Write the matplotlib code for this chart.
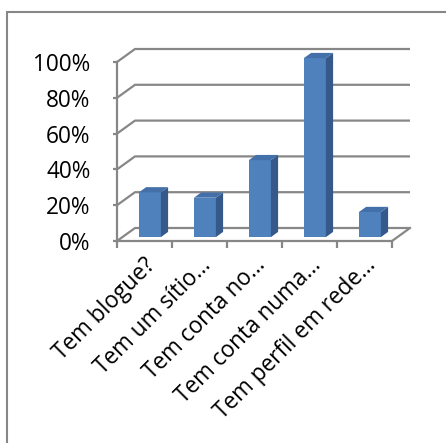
import numpy as np
import matplotlib.pyplot as plt
from matplotlib.patches import Polygon, Rectangle
from matplotlib.ticker import PercentFormatter

plt.rcParams['font.family'] = ['Open Sans', 'DejaVu Sans']

categories = ["Tem blogue?", "Tem um sítio…", "Tem conta no…", "Tem conta numa…", "Tem perfil em rede…"]
values = [0.25, 0.22, 0.43, 1.00, 0.14]
yticks = [0, 0.2, 0.4, 0.6, 0.8, 1.0]

W, H = 446, 443
front = '#4F81BD'
side = '#35598A'
top = '#4370A8'
grey = '#878787'
fs = 16.3

fig = plt.figure(figsize=(W / 100, H / 100), dpi=100)
# axes box = front plane of the 3d frame
ax = fig.add_axes([117 / W, (H - 241) / H, 275 / W, 179 / H])
ax.set_xlim(-0.5, 4.5)
ax.set_ylim(0, 1)
ax.patch.set_visible(False)

# depth of the box in data units
ddx = 18 / 55
ddy = 13 / 179
f0, f1 = 0.3, 0.7
w = 0.4

# side wall + back wall gridlines
for v in yticks:
    ax.plot([-0.5, -0.5 + ddx, 4.5 + ddx], [v, v + ddy, v + ddy],
            color=grey, lw=1.6, clip_on=False, solid_capstyle='butt', zorder=1)
# floor right edge
ax.plot([4.5, 4.5 + ddx], [0, ddy], color=grey, lw=1.6, clip_on=False, zorder=1)

x = np.arange(len(categories))
ax.bar(x + f0 * ddx, values, width=w, bottom=f0 * ddy, color=front, zorder=3, clip_on=False)
for c, v in zip(x, values):
    r0 = c + w / 2 + f0 * ddx
    r1 = c + w / 2 + f1 * ddx
    l0 = c - w / 2 + f0 * ddx
    l1 = c - w / 2 + f1 * ddx
    ax.add_patch(Polygon([(r0, f0 * ddy), (r1, f1 * ddy), (r1, v + f1 * ddy), (r0, v + f0 * ddy)],
                         closed=True, color=side, lw=0, zorder=3, clip_on=False))
    ax.add_patch(Polygon([(l0, v + f0 * ddy), (r0, v + f0 * ddy), (r1, v + f1 * ddy), (l1, v + f1 * ddy)],
                         closed=True, color=top, lw=0, zorder=3, clip_on=False))

for s in ['top', 'right']:
    ax.spines[s].set_visible(False)
for s in ['left', 'bottom']:
    ax.spines[s].set_color(grey)
    ax.spines[s].set_linewidth(1.6)
    ax.spines[s].set_zorder(2)

ax.set_yticks(yticks)
ax.yaxis.set_major_formatter(PercentFormatter(1.0, decimals=0))
ax.tick_params(axis='y', direction='out', length=3, width=1.6, color=grey,
               pad=16, labelsize=fs, labelcolor='black')

ax.set_xticks(x)
ax.set_xticklabels([])
ax.tick_params(axis='x', which='major', length=0)
ax.set_xticks(np.arange(-0.5, 5, 1), minor=True)
ax.tick_params(axis='x', which='minor', direction='out', length=5, width=1.6, color=grey)

for c, lab in zip(x, categories):
    ax.text(c + 0.22, -0.14, lab, rotation=45, rotation_mode='anchor',
            ha='right', va='baseline', fontsize=fs, color='black')

# chart frame
fig.add_artist(Rectangle((7 / W, -0.1), 1.2, (H - 12) / H + 0.1, transform=fig.transFigure,
                         fill=False, ec=grey, lw=1.5))

fig.savefig('out.png', dpi=100)
